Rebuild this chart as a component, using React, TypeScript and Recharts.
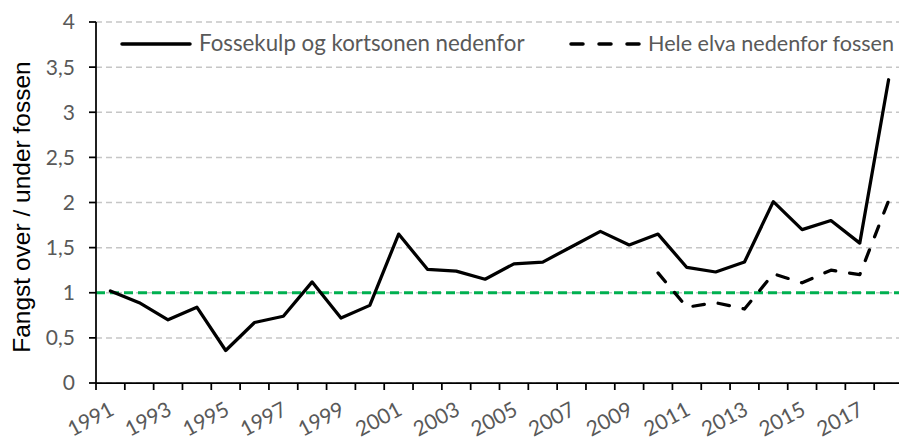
import React from 'react';
import { LineChart, Line, XAxis, YAxis, CartesianGrid, ReferenceLine, Legend, Label } from 'recharts';

// ---- data ----
const years = [1991, 1992, 1993, 1994, 1995, 1996, 1997, 1998, 1999, 2000, 2001, 2002, 2003, 2004, 2005, 2006, 2007, 2008, 2009, 2010, 2011, 2012, 2013, 2014, 2015, 2016, 2017, 2018];
const fossekulp = [1.02, 0.89, 0.70, 0.84, 0.36, 0.67, 0.74, 1.12, 0.72, 0.86, 1.65, 1.26, 1.24, 1.15, 1.32, 1.34, 1.51, 1.68, 1.53, 1.65, 1.28, 1.23, 1.34, 2.01, 1.70, 1.80, 1.55, 3.36];
const heleElva: (number | null)[] = [null, null, null, null, null, null, null, null, null, null, null, null, null, null, null, null, null, null, null, 1.22, 0.84, 0.89, 0.82, 1.21, 1.11, 1.25, 1.20, 2.02];
const xTickLabels = [1991, 1993, 1995, 1997, 1999, 2001, 2003, 2005, 2007, 2009, 2011, 2013, 2015, 2017];
const yTicks = [0, 0.5, 1, 1.5, 2, 2.5, 3, 3.5, 4];
const referenceLevel = 1;
const seriesNames = ['Fossekulp og kortsonen nedenfor', 'Hele elva nedenfor fossen'];
const yTitle = 'Fangst over / under fossen';

const data = years.map((year, i) => ({ year, fossekulp: fossekulp[i], heleElva: heleElva[i] }));
const boundaries = years.map((y) => y - 0.5).concat([years[years.length - 1] + 0.5]);
const xTicks = [...boundaries, ...xTickLabels].sort((a, b) => a - b);

// ---- style ----
const FONT = 'Lato, "Open Sans", sans-serif';
const GREY = '#595959';
const FS = 21;

const XTick = (props: any) => {
  const { x, y, payload } = props;
  const v = payload.value as number;
  if (Number.isInteger(v)) {
    return (
      <g transform={`translate(${x + 5},${y + 31})`}>
        <text x={0} y={0} textAnchor="end" transform="rotate(-28)" fill={GREY} fontSize={FS} fontFamily={FONT}>
          {v}
        </text>
      </g>
    );
  }
  return <line x1={x} x2={x} y1={y} y2={y + 7} stroke="#000" strokeWidth={1.75} />;
};

const renderTitle = () => (
  <text
    x={30}
    y={207}
    transform="rotate(-90 30 207)"
    textAnchor="middle"
    fill="#000"
    fontSize={24.5}
    fontFamily='"Liberation Sans", Arial, sans-serif'
  >
    {yTitle}
  </text>
);

const legendPos = [
  { lineX: 122, textX: 199, fs: 22.3 },
  { lineX: 571, textX: 648, fs: 21.6 },
];

const renderLegend = (props: any) => {
  const payload = props.payload || [];
  return (
    <div style={{ position: 'relative', width: 899, height: 40, fontFamily: FONT, color: GREY }}>
      {payload.map((p: any, i: number) => (
        <React.Fragment key={i}>
          <svg style={{ position: 'absolute', left: legendPos[i].lineX - 2, top: 15 }} width={74} height={10}>
            <line
              x1={2}
              x2={70}
              y1={5}
              y2={5}
              stroke="#000"
              strokeWidth={3.5}
              strokeLinecap="round"
              strokeDasharray={i === 1 ? '12 16' : undefined}
            />
          </svg>
          <span
            style={{
              position: 'absolute',
              left: legendPos[i].textX,
              top: -1,
              lineHeight: '40px',
              fontSize: legendPos[i].fs,
              whiteSpace: 'nowrap',
            }}
          >
            {p.value}
          </span>
        </React.Fragment>
      ))}
    </div>
  );
};

export default function App() {
  return (
    <div style={{ position: 'absolute', left: 0, top: 0, width: 899, height: 441, overflow: 'hidden', background: '#fff' }}>
      <LineChart width={920} height={441} data={data} margin={{ top: 22, right: 17, bottom: 0, left: 0 }}>
        <CartesianGrid vertical={false} stroke="#C6C6C6" strokeWidth={1.5} strokeDasharray="6 4" />
        <XAxis
          dataKey="year"
          type="number"
          domain={[boundaries[0], boundaries[boundaries.length - 1]]}
          ticks={xTicks}
          interval={0}
          tickSize={0}
          tickMargin={0}
          tickLine={false}
          tick={<XTick />}
          axisLine={{ stroke: '#000', strokeWidth: 1.75 }}
          height={58}
          allowDataOverflow
        />
        <YAxis
          domain={[0, 4]}
          ticks={yTicks}
          width={96}
          tickSize={7}
          tickMargin={14}
          tickLine={{ stroke: '#000', strokeWidth: 1.75 }}
          axisLine={{ stroke: '#000', strokeWidth: 1.75 }}
          tick={{ fill: GREY, fontSize: FS, fontFamily: FONT }}
          tickFormatter={(v: number) => String(v).replace('.', ',')}
        >
          <Label content={renderTitle} />
        </YAxis>
        <Legend
          verticalAlign="middle"
          align="center"
          content={renderLegend}
          wrapperStyle={{ left: 0, top: 24, width: 899, height: 40 }}
        />
        <ReferenceLine y={referenceLevel} stroke="#00B050" strokeWidth={3} strokeDasharray="9 5" ifOverflow="visible" />
        <Line
          dataKey="fossekulp"
          name={seriesNames[0]}
          stroke="#000"
          strokeWidth={3.25}
          dot={false}
          activeDot={false}
          strokeLinejoin="round"
          strokeLinecap="round"
          isAnimationActive={false}
          legendType="line"
        />
        <Line
          dataKey="heleElva"
          name={seriesNames[1]}
          stroke="#000"
          strokeWidth={3.25}
          strokeDasharray="11.5 14"
          dot={false}
          activeDot={false}
          strokeLinejoin="round"
          strokeLinecap="round"
          isAnimationActive={false}
          legendType="line"
        />
      </LineChart>
    </div>
  );
}
